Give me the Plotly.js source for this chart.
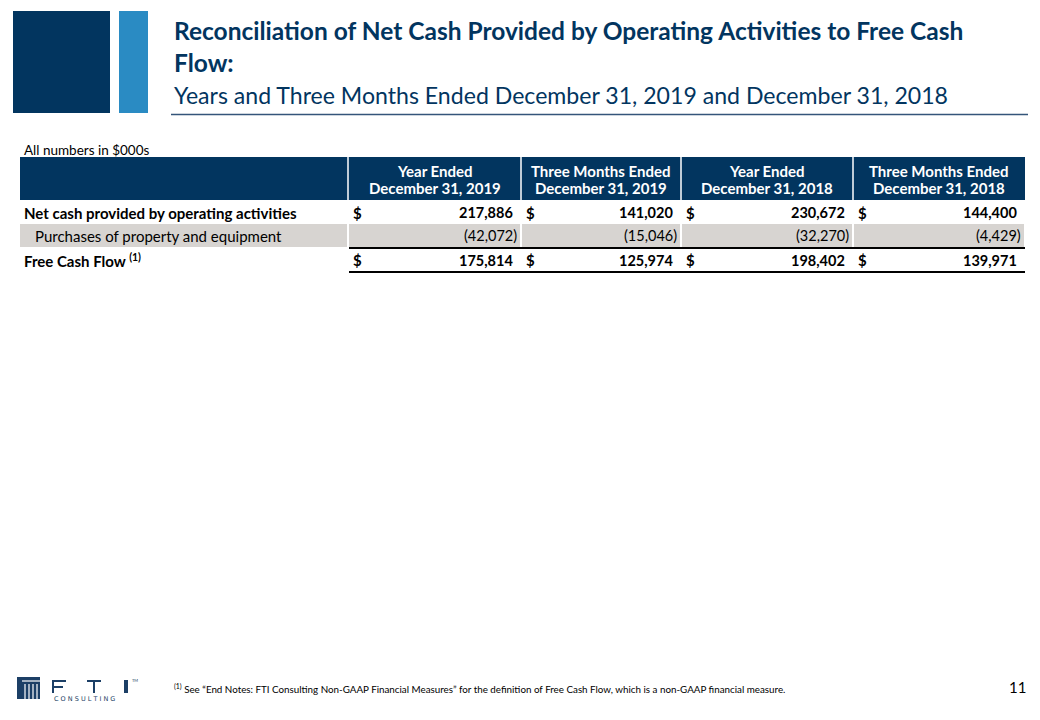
<!DOCTYPE html>
<html>
<head>
<meta charset="utf-8">
<script src="https://cdn.plot.ly/plotly-3.0.1.min.js"></script>
<style>
  html, body { margin: 0; padding: 0; background: #ffffff; }
  #chart { width: 1040px; height: 720px; }
</style>
</head>
<body>
<div id="chart"></div>
<script>
// ---- Data ----
const titleText = "Reconciliation of Net Cash Provided by Operating Activities to Free Cash<br>Flow:";
const subtitleText = "Years and Three Months Ended December 31, 2019 and December 31, 2018";
const unitsNote = "All numbers in $000s";
const columnHeaders = [
  "Year Ended<br>December 31, 2019",
  "Three Months Ended<br>December 31, 2019",
  "Year Ended<br>December 31, 2018",
  "Three Months Ended<br>December 31, 2018"
];
const rowLabels = [
  "Net cash provided by operating activities",
  "Purchases of property and equipment",
  "Free Cash Flow <sup>(1)</sup>"
];
const netCashFromOperations = [217886, 141020, 230672, 144400];
const purchasesOfPropertyAndEquipment = [-42072, -15046, -32270, -4429];
const freeCashFlow = [175814, 125974, 198402, 139971];
const footnoteText = "<sup>(1)</sup> See \u201cEnd Notes: FTI Consulting Non-GAAP Financial Measures\u201d for the definition of Free Cash Flow, which is a non-GAAP financial measure.";
const pageNumber = "11";

// ---- Styling / layout constants ----
const NAVY = "#02355F";
const BLUE = "#2A8BC3";
const GRAY = "#D7D4D1";
const LOGO = "#1C3F66";
const FONT = "Lato, 'Open Sans', sans-serif";

const tableLeft = 20;
const colEdges = [348, 521, 681, 853, 1025];
const headerTop = 157, headerBottom = 200;
const headerLineY = [171, 188];
const rowTops = [201, 224, 249];
const rowBottoms = [224, 247, 271];
const rowBold = [true, false, true];
const rowFill = [null, GRAY, null];
const rowDollar = [true, false, true];
const rowIndent = [22, 33, 22];
const rowLineBelow = [false, true, true];

function fmt(v) {
  const s = Math.abs(v).toLocaleString("en-US");
  return v < 0 ? "(" + s + ")" : s;
}

const rows = [netCashFromOperations, purchasesOfPropertyAndEquipment, freeCashFlow];

const shapes = [];
const annotations = [];

function ann(o) {
  annotations.push(Object.assign({xref: "x", yref: "y", showarrow: false}, o));
}

// Header decorative blocks
shapes.push({type: "rect", xref: "x", yref: "y", x0: 13, x1: 110, y0: 11, y1: 113, fillcolor: NAVY, line: {width: 0}});
shapes.push({type: "rect", xref: "x", yref: "y", x0: 119, x1: 148, y0: 11, y1: 113, fillcolor: BLUE, line: {width: 0}});
// Title underline
shapes.push({type: "line", xref: "x", yref: "y", x0: 171, x1: 1028, y0: 114.5, y1: 114.5, line: {color: "#34557A", width: 1.5}});

// Titles
ann({x: 172, y: 14, xanchor: "left", yanchor: "top", align: "left",
  text: "<b>" + titleText + "</b>", font: {family: FONT, size: 24.5, color: NAVY}});
ann({x: 172, y: 95, xanchor: "left", yanchor: "middle", align: "left",
  text: subtitleText, font: {family: FONT, size: 23.1, color: NAVY}});
ann({x: 22, y: 150, xanchor: "left", yanchor: "middle", align: "left",
  text: unitsNote, font: {family: FONT, size: 13.5, color: "#000000"}});

// Header band
shapes.push({type: "rect", xref: "x", yref: "y", x0: tableLeft, x1: colEdges[4], y0: headerTop, y1: headerBottom, fillcolor: NAVY, line: {width: 0}});
for (let i = 0; i < 4; i++) {
  shapes.push({type: "line", xref: "x", yref: "y", x0: colEdges[i], x1: colEdges[i], y0: headerTop, y1: headerBottom, line: {color: "#ffffff", width: 1.5}});
  const parts = columnHeaders[i].split("<br>");
  parts.forEach(function (part, k) {
    ann({x: (colEdges[i] + colEdges[i + 1]) / 2, y: headerLineY[k],
      xanchor: "center", yanchor: "middle", align: "center", text: "<b>" + part + "</b>",
      font: {family: FONT, size: 15, color: "#ffffff"}});
  });
}

// Body rows
for (let r = 0; r < rows.length; r++) {
  const yc = (rowTops[r] + rowBottoms[r]) / 2;
  if (rowFill[r]) {
    shapes.push({type: "rect", xref: "x", yref: "y", x0: tableLeft, x1: colEdges[0] - 1, y0: rowTops[r], y1: rowBottoms[r], fillcolor: rowFill[r], line: {width: 0}});
    for (let c = 0; c < 4; c++) {
      shapes.push({type: "rect", xref: "x", yref: "y", x0: colEdges[c] + 1, x1: colEdges[c + 1] - 1, y0: rowTops[r], y1: rowBottoms[r], fillcolor: rowFill[r], line: {width: 0}});
    }
  }
  const lbl = rowBold[r] ? "<b>" + rowLabels[r] + "</b>" : rowLabels[r];
  ann({x: rowIndent[r], y: yc, xanchor: "left", yanchor: "middle", align: "left",
    text: lbl, font: {family: FONT, size: 15, color: "#000000"}});
  for (let c = 0; c < 4; c++) {
    const v = rows[r][c];
    const txt = rowBold[r] ? "<b>" + fmt(v) + "</b>" : fmt(v);
    const rightX = v < 0 ? colEdges[c + 1] - 2 : colEdges[c + 1] - 6;
    ann({x: rightX, y: yc, xanchor: "right", yanchor: "middle", align: "right",
      text: txt, font: {family: FONT, size: 14.5, color: "#000000"}});
    if (rowDollar[r]) {
      ann({x: colEdges[c] + 3, y: yc, xanchor: "left", yanchor: "middle", align: "left",
        text: "<b>$</b>", font: {family: FONT, size: 15, color: "#000000"}});
    }
  }
  if (rowLineBelow[r]) {
    shapes.push({type: "line", xref: "x", yref: "y", x0: colEdges[0] + 1, x1: colEdges[4], y0: rowBottoms[r] + 1, y1: rowBottoms[r] + 1, line: {color: "#000000", width: 2}});
  }
}

// Footnote & page number
ann({x: 172, y: 688, xanchor: "left", yanchor: "middle", align: "left",
  text: footnoteText, font: {family: FONT, size: 9.8, color: "#000000"}});
ann({x: 1028, y: 687, xanchor: "right", yanchor: "middle", align: "right",
  text: pageNumber, font: {family: FONT, size: 15, color: "#000000"}});

// Logo (decorative)
shapes.push({type: "rect", xref: "x", yref: "y", x0: 17, x1: 40, y0: 677, y1: 699, fillcolor: LOGO, line: {width: 0}});
shapes.push({type: "line", xref: "x", yref: "y", x0: 22, x1: 40, y0: 681, y1: 681, line: {color: "#ffffff", width: 1.2}});
[25, 29, 33, 37].forEach(function (lx) {
  shapes.push({type: "line", xref: "x", yref: "y", x0: lx, x1: lx, y0: 684, y1: 699, line: {color: "#ffffff", width: 1.2}});
});
// F
shapes.push({type: "path", xref: "x", yref: "y", path: "M53,693 L53,681 L66,681 M53,687 L63,687", line: {color: LOGO, width: 2}});
// T
shapes.push({type: "path", xref: "x", yref: "y", path: "M87,681 L101,681 M94,681 L94,693", line: {color: LOGO, width: 2}});
// I
shapes.push({type: "rect", xref: "x", yref: "y", x0: 124, x1: 128, y0: 680, y1: 693, fillcolor: LOGO, line: {width: 0}});
ann({x: 135, y: 680, xanchor: "center", yanchor: "middle", text: "TM",
  font: {family: FONT, size: 4, color: LOGO}});
ann({x: 52, y: 698.5, xanchor: "left", yanchor: "middle", text: "C O N S U L T I N G",
  font: {family: "'DejaVu Sans', sans-serif", size: 6.5, color: LOGO}});

const layout = {
  width: 1040, height: 720,
  margin: {l: 0, r: 0, t: 0, b: 0},
  paper_bgcolor: "#ffffff", plot_bgcolor: "#ffffff",
  showlegend: false,
  xaxis: {range: [0, 1040], visible: false, fixedrange: true},
  yaxis: {range: [720, 0], visible: false, fixedrange: true},
  shapes: shapes,
  annotations: annotations
};

Plotly.newPlot("chart", [], layout, {staticPlot: true, displayModeBar: false});
</script>
</body>
</html>
